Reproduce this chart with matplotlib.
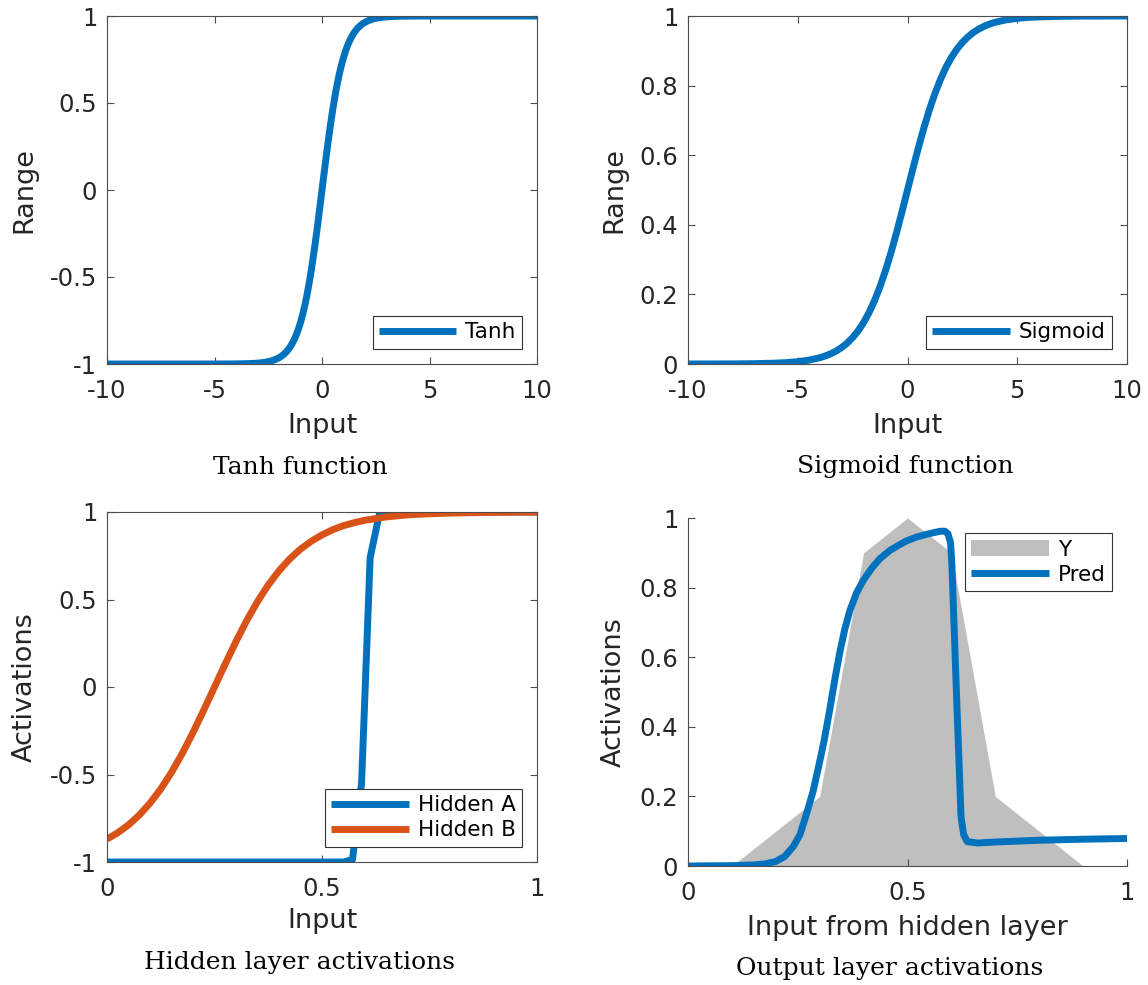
import matplotlib
matplotlib.use("Agg")
import matplotlib.pyplot as plt

# ------------------------------------------------------------------
# values
tanh_x = [-10, -6, -5, -4, -3.5, -3, -2.8, -2.6, -2.4, -2.2, -2, -1.9, -1.8, -1.7,
          -1.6, -1.5, -1.4, -1.3, -1.2, -1.1, -1, -0.9, -0.8, -0.7, -0.6, -0.5,
          -0.4, -0.3, -0.2, -0.1, 0, 0.1, 0.2, 0.3, 0.4, 0.5, 0.6, 0.7, 0.8, 0.9,
          1, 1.1, 1.2, 1.3, 1.4, 1.5, 1.6, 1.7, 1.8, 1.9, 2, 2.2, 2.4, 2.6, 2.8,
          3, 3.5, 4, 5, 6, 10]
tanh_y = [-1.0, -1.0, -0.9999, -0.9993, -0.9982, -0.9951, -0.9926, -0.989, -0.9837,
          -0.9757, -0.964, -0.9562, -0.9468, -0.9354, -0.9217, -0.9051, -0.8854,
          -0.8617, -0.8337, -0.8005, -0.7616, -0.7163, -0.664, -0.6044, -0.537,
          -0.4621, -0.3799, -0.2913, -0.1974, -0.0997, 0.0, 0.0997, 0.1974, 0.2913,
          0.3799, 0.4621, 0.537, 0.6044, 0.664, 0.7163, 0.7616, 0.8005, 0.8337,
          0.8617, 0.8854, 0.9051, 0.9217, 0.9354, 0.9468, 0.9562, 0.964, 0.9757,
          0.9837, 0.989, 0.9926, 0.9951, 0.9982, 0.9993, 0.9999, 1.0, 1.0]

sig_x = [-10, -8, -7, -6, -5.5, -5, -4.5, -4, -3.75, -3.5, -3.25, -3, -2.75, -2.5,
         -2.25, -2, -1.75, -1.5, -1.25, -1, -0.75, -0.5, -0.25, 0, 0.25, 0.5, 0.75,
         1, 1.25, 1.5, 1.75, 2, 2.25, 2.5, 2.75, 3, 3.25, 3.5, 3.75, 4, 4.5, 5,
         5.5, 6, 7, 8, 10]
sig_y = [0.00005, 0.0003, 0.0009, 0.0025, 0.0041, 0.0067, 0.011, 0.018, 0.023,
         0.0293, 0.0373, 0.0474, 0.0601, 0.0759, 0.0953, 0.1192, 0.148, 0.1824,
         0.2227, 0.2689, 0.3208, 0.3775, 0.4378, 0.5, 0.5622, 0.6225, 0.6792,
         0.7311, 0.7773, 0.8176, 0.852, 0.8808, 0.9047, 0.9241, 0.9399, 0.9526,
         0.9627, 0.9707, 0.977, 0.982, 0.989, 0.9933, 0.9959, 0.9975, 0.9991,
         0.9997, 0.99995]

hidA_x = [0, 0.551, 0.571, 0.592, 0.612, 0.633, 0.653, 1.0]
hidA_y = [-1, -1, -0.985, -0.55, 0.74, 0.985, 1.0, 1.0]

hidB_x = [0, 0.025, 0.05, 0.075, 0.1, 0.125, 0.15, 0.175, 0.2, 0.225, 0.25, 0.275,
          0.3, 0.325, 0.35, 0.375, 0.4, 0.425, 0.45, 0.475, 0.5, 0.525, 0.55,
          0.575, 0.6, 0.65, 0.7, 0.75, 0.8, 0.9, 1.0]
hidB_y = [-0.869, -0.833, -0.788, -0.732, -0.664, -0.583, -0.488, -0.38, -0.26,
          -0.132, 0.0, 0.132, 0.26, 0.38, 0.488, 0.583, 0.664, 0.732, 0.788, 0.833,
          0.869, 0.899, 0.922, 0.939, 0.953, 0.972, 0.984, 0.99, 0.994, 0.998, 0.9995]

target_x = [0, 0.1, 0.2, 0.3, 0.4, 0.5, 0.6, 0.7, 0.8, 0.9, 1.0]
target_y = [0, 0, 0.1, 0.2, 0.9, 1.0, 0.9, 0.2, 0.1, 0, 0]

pred_x = [0, 0.1, 0.15, 0.175, 0.2, 0.22, 0.24, 0.255, 0.27, 0.285, 0.3, 0.31,
          0.323, 0.335, 0.346, 0.357, 0.369, 0.384, 0.399, 0.418, 0.437, 0.46,
          0.48, 0.499, 0.52, 0.54, 0.56, 0.575, 0.585, 0.592, 0.598, 0.601, 0.612,
          0.622, 0.628, 0.636, 0.66, 0.7, 0.8, 0.9, 1.0]
pred_y = [0.0, 0.001, 0.003, 0.006, 0.013, 0.027, 0.056, 0.09, 0.15, 0.215, 0.3,
          0.36, 0.45, 0.54, 0.615, 0.68, 0.735, 0.785, 0.82, 0.855, 0.883, 0.907,
          0.922, 0.935, 0.945, 0.952, 0.958, 0.962, 0.962, 0.955, 0.93, 0.87, 0.48,
          0.14, 0.09, 0.07, 0.066, 0.069, 0.074, 0.077, 0.079]
# ------------------------------------------------------------------

blue = "#0072BD"
orange = "#D95319"
grey = "#BFBFBF"
txt = "#262626"
lw = 5

W, H = 1148, 985
fig = plt.figure(figsize=(W / 100, H / 100), dpi=100)


def ax_at(l, t, r, b):
    return fig.add_axes([l / W, 1 - b / H, (r - l) / W, (b - t) / H])


def style(ax, box=True):
    ax.tick_params(direction="in", length=5, width=0.8, colors="0.3",
                   labelcolor=txt, labelsize=17.5, top=box, right=box)
    ax.tick_params(axis="x", pad=11)
    ax.tick_params(axis="y", pad=7)
    for s in ax.spines.values():
        s.set_color("0.3")
        s.set_linewidth(0.8)
    if not box:
        ax.spines["top"].set_visible(False)
        ax.spines["right"].set_visible(False)


def legend(ax, loc):
    lg = ax.legend(loc=loc, fontsize=15.5, frameon=True, fancybox=False,
                   edgecolor="0.2", framealpha=1, borderaxespad=0.7,
                   handlelength=3.6, handletextpad=0.4, borderpad=0.3,
                   labelspacing=0.25)
    lg.get_frame().set_linewidth(0.8)
    for t in lg.get_texts():
        t.set_color("black")
    return lg


lab = dict(fontsize=19.5, color=txt)
line = dict(lw=lw, solid_joinstyle="round", solid_capstyle="butt")

# Tanh
ax1 = ax_at(107, 16, 537, 364)
ax1.plot(tanh_x, tanh_y, color=blue, label="Tanh", **line)
ax1.set_xlim(-10, 10)
ax1.set_ylim(-1, 1)
ax1.set_xticks([-10, -5, 0, 5, 10], ["-10", "-5", "0", "5", "10"])
ax1.set_yticks([-1, -0.5, 0, 0.5, 1], ["-1", "-0.5", "0", "0.5", "1"])
ax1.set_xlabel("Input", labelpad=7, **lab)
ax1.set_ylabel("Range", labelpad=9, **lab)
style(ax1)
legend(ax1, "lower right")

# Sigmoid
ax2 = ax_at(688, 16, 1127, 364)
ax2.plot(sig_x, sig_y, color=blue, label="Sigmoid", **line)
ax2.set_xlim(-10, 10)
ax2.set_ylim(0, 1)
ax2.set_xticks([-10, -5, 0, 5, 10], ["-10", "-5", "0", "5", "10"])
ax2.set_yticks([0, 0.2, 0.4, 0.6, 0.8, 1], ["0", "0.2", "0.4", "0.6", "0.8", "1"])
ax2.set_xlabel("Input", labelpad=7, **lab)
ax2.set_ylabel("Range", labelpad=9, **lab)
style(ax2)
legend(ax2, "lower right")

# Hidden layer
ax3 = ax_at(107, 512, 537, 862)
ax3.plot(hidA_x, hidA_y, color=blue, label="Hidden A", **line)
ax3.plot(hidB_x, hidB_y, color=orange, label="Hidden B", **line)
ax3.set_xlim(0, 1)
ax3.set_ylim(-1, 1)
ax3.set_xticks([0, 0.5, 1], ["0", "0.5", "1"])
ax3.set_yticks([-1, -0.5, 0, 0.5, 1], ["-1", "-0.5", "0", "0.5", "1"])
ax3.set_xlabel("Input", labelpad=5, **lab)
ax3.set_ylabel("Activations", labelpad=9, **lab)
style(ax3)
legend(ax3, "lower right")

# Output layer
ax4 = ax_at(688, 518, 1127, 866)
ax4.fill_between(target_x, target_y, 0, color=grey, lw=0, label="Y")
ax4.plot(pred_x, pred_y, color=blue, label="Pred", **line)
ax4.set_xlim(0, 1)
ax4.set_ylim(0, 1)
ax4.set_xticks([0, 0.5, 1], ["0", "0.5", "1"])
ax4.set_yticks([0, 0.2, 0.4, 0.6, 0.8, 1], ["0", "0.2", "0.4", "0.6", "0.8", "1"])
ax4.set_xlabel("Input from hidden layer", labelpad=7, **lab)
ax4.set_ylabel("Activations", labelpad=9, **lab)
style(ax4, box=False)
legend(ax4, "upper right")

cap = dict(fontsize=18, family="DejaVu Serif", ha="center", va="center", color="black")
fig.text(300 / W, 1 - 467 / H, "Tanh function", **cap)
fig.text(905 / W, 1 - 467 / H, "Sigmoid function", **cap)
fig.text(300 / W, 1 - 963 / H, "Hidden layer activations", **cap)
fig.text(890 / W, 1 - 968 / H, "Output layer activations", **cap)

fig.savefig("out.png", dpi=100)
